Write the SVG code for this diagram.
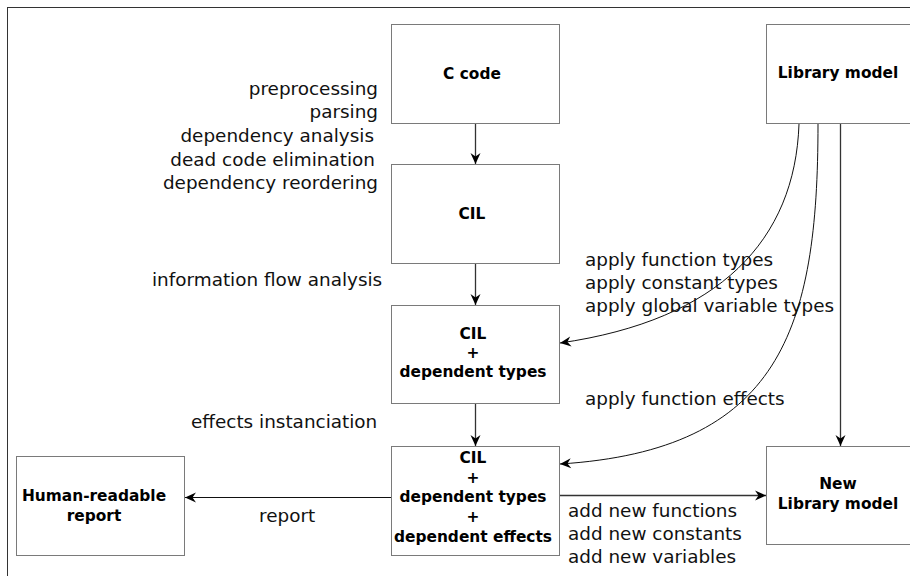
<svg xmlns="http://www.w3.org/2000/svg" width="910" height="576" viewBox="0 0 910 576">
<defs>
<marker id="ah" markerUnits="userSpaceOnUse" markerWidth="14" markerHeight="12" viewBox="-12 -6 14 12" refX="0" refY="0" orient="auto">
<path d="M0,0 L-11,-5 L-7.5,0 L-11,5 Z" fill="#000"/>
</marker>
<style>
.box{fill:#fff;stroke:#7a7a7a;stroke-width:1}
.b{font-family:"DejaVu Sans",sans-serif;font-weight:bold;font-size:15.4px;fill:#000;text-anchor:middle}
.t{font-family:"DejaVu Sans",sans-serif;font-size:18.4px;fill:#111}
.e{text-anchor:end}
.c{fill:none;stroke:#111;stroke-width:1}
.m{fill:none;stroke:#333;stroke-width:1.3}
</style>
</defs>
<rect x="0" y="0" width="910" height="576" fill="#fff"/>
<rect x="7.5" y="7.5" width="920" height="590" fill="none" stroke="#333" stroke-width="1"/>

<g id="c-code"><rect class="box" x="391.5" y="24.5" width="168" height="99"/><text class="b" x="472" y="79">C code</text></g>
<g id="cil"><rect class="box" x="391.5" y="164.5" width="168" height="99"/><text class="b" x="472" y="219">CIL</text></g>
<g id="cil-types"><rect class="box" x="391.5" y="305.5" width="168" height="98"/>
<text class="b" x="473" y="339">CIL</text><text class="b" x="473" y="358">+</text><text class="b" x="473" y="377">dependent types</text></g>
<g id="cil-effects"><rect class="box" x="391.5" y="446.5" width="168" height="109"/>
<text class="b" x="473" y="463">CIL</text><text class="b" x="473" y="483">+</text><text class="b" x="473" y="502">dependent types</text><text class="b" x="473" y="522">+</text><text class="b" x="473" y="542">dependent effects</text></g>
<g id="report"><rect class="box" x="16.5" y="456.5" width="168" height="99"/>
<text class="b" x="94" y="501">Human-readable</text><text class="b" x="94" y="521">report</text></g>
<g id="library"><rect class="box" x="766.5" y="24.5" width="168" height="99"/><text class="b" x="838" y="78">Library model</text></g>
<g id="new-library"><rect class="box" x="766.5" y="446.5" width="168" height="98"/>
<text class="b" x="838" y="489">New</text><text class="b" x="838" y="509">Library model</text></g>

<g id="connectors">
<line class="m" x1="475.5" y1="124" x2="475.5" y2="164" marker-end="url(#ah)"/>
<line class="m" x1="475.5" y1="264" x2="475.5" y2="305" marker-end="url(#ah)"/>
<line class="m" x1="475.5" y1="404" x2="475.5" y2="446" marker-end="url(#ah)"/>
<line class="m" x1="840.5" y1="124" x2="840.5" y2="446" marker-end="url(#ah)"/>
<path class="c" d="M799,124 C795,240 720,320 560,343" marker-end="url(#ah)"/>
<path class="c" d="M818,124 C818,330 780,450 560,464" marker-end="url(#ah)"/>
<line class="c" x1="391" y1="497.5" x2="185" y2="497.5" marker-end="url(#ah)"/>
<line class="m" x1="560" y1="495.5" x2="766" y2="495.5" marker-end="url(#ah)"/>
</g>

<g id="labels">
<text class="t e" x="378" y="95">preprocessing</text>
<text class="t e" x="378" y="118">parsing</text>
<text class="t e" x="374" y="142">dependency analysis</text>
<text class="t e" x="375" y="166">dead code elimination</text>
<text class="t e" x="378" y="189">dependency reordering</text>
<text class="t" x="152" y="286">information flow analysis</text>
<text class="t" x="191" y="428">effects instanciation</text>
<text class="t" x="259" y="522">report</text>
<text class="t" x="585" y="266">apply function types</text>
<text class="t" x="585" y="289">apply constant types</text>
<text class="t" x="585" y="312">apply global variable types</text>
<text class="t" x="585" y="405">apply function effects</text>
<text class="t" x="568" y="517">add new functions</text>
<text class="t" x="568" y="540">add new constants</text>
<text class="t" x="568" y="563">add new variables</text>
</g>
</svg>
